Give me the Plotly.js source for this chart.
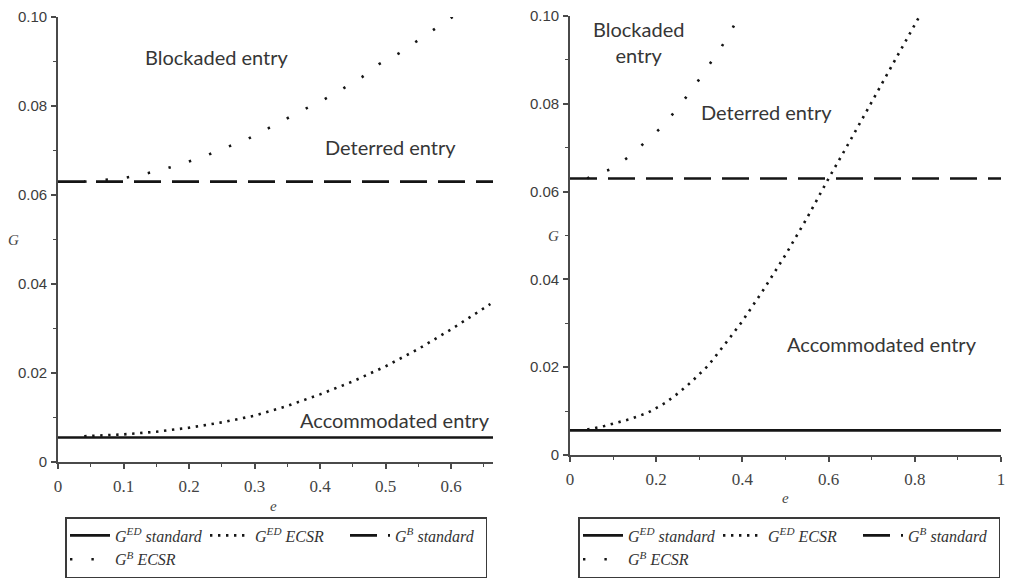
<!DOCTYPE html>
<html><head><meta charset="utf-8">
<script src="https://cdn.plot.ly/plotly-3.0.1.min.js"></script>
<style>html,body{margin:0;padding:0;background:#fff}#chart{width:1011px;height:579px}</style>
</head><body><div id="chart"></div>
<script>
// ---------- data: left panel ----------
const leftXRange = [0, 0.664];
const leftEdStdE = [0, 0.664];
const leftEdStdG = [0.0055, 0.0055];
const leftEdEcsrE = [0.04, 0.1, 0.15, 0.2, 0.25, 0.3, 0.35, 0.4, 0.45, 0.5, 0.55, 0.6, 0.66];
const leftEdEcsrG = [0.0058, 0.0062, 0.0068, 0.0077, 0.0089, 0.0104, 0.0126, 0.0152, 0.0181, 0.0215, 0.0254, 0.0298, 0.0355];
const leftBStdE = [0, 0.664];
const leftBStdG = [0.063, 0.063];
const leftBEcsrE = [0.04, 0.067, 0.1, 0.131, 0.162, 0.193, 0.225, 0.255, 0.287, 0.316, 0.345, 0.374, 0.404, 0.434, 0.464, 0.49, 0.521, 0.55, 0.579, 0.606];
const leftBEcsrG = [0.0630, 0.0634, 0.0638, 0.0647, 0.0658, 0.0672, 0.0688, 0.0706, 0.0724, 0.0746, 0.0769, 0.0791, 0.0813, 0.0838, 0.0865, 0.0894, 0.0919, 0.0948, 0.0975, 0.1004];

// ---------- data: right panel ----------
const rightXRange = [0, 1];
const rightEdStdE = [0, 1];
const rightEdStdG = [0.0056, 0.0056];
const rightEdEcsrE = [0.04, 0.08, 0.14, 0.18, 0.22, 0.25, 0.28, 0.32, 0.36, 0.4, 0.45, 0.5, 0.55, 0.6, 0.65, 0.7, 0.75, 0.81];
const rightEdEcsrG = [0.0058, 0.0066, 0.0082, 0.0096, 0.0118, 0.0140, 0.0165, 0.0203, 0.0253, 0.0305, 0.0378, 0.0456, 0.0540, 0.0630, 0.0716, 0.0804, 0.0892, 0.0998];
const rightBStdE = [0, 1];
const rightBStdG = [0.063, 0.063];
const rightBEcsrE = [0.04, 0.051, 0.095, 0.139, 0.178, 0.216, 0.251, 0.285, 0.316, 0.348, 0.376, 0.392];
const rightBEcsrG = [0.0630, 0.0636, 0.0651, 0.0681, 0.0716, 0.0750, 0.0792, 0.0835, 0.0879, 0.0924, 0.0970, 0.1000];

// ---------- labels ----------
const yTickVals = [0, 0.02, 0.04, 0.06, 0.08, 0.10];
const yTickText = ['0', '0.02', '0.04', '0.06', '0.08', '0.10'];
const yMinorVals = [0.01, 0.03, 0.05, 0.07, 0.09];
const seriesNames = [
  '<i>G</i><sup><i>ED</i></sup><i> standard</i>',
  '<i>G</i><sup><i>ED</i></sup><i> ECSR</i>',
  '<i>G</i><sup><i>B</i></sup><i> standard</i>',
  '<i>G</i><sup><i>B</i></sup><i> ECSR</i>'
];
const regionLabels = ['Blockaded entry', 'Deterred entry', 'Accommodated entry'];
const regionLabelsRight = ['Blockaded<br>entry', 'Deterred entry', 'Accommodated entry'];

// ---------- styles ----------
const INK = '#151515';
const lineStyles = [
  {color: INK, width: 2.6, dash: 'solid'},
  {color: INK, width: 2.6, dash: '2.4px,5.6px'},
  {color: INK, width: 2.6, dash: '27px,11px'},
  {color: INK, width: 2.6, dash: '2.4px,19px'}
];
const groups = ['a', 'b', 'c', 'a'];

function mk(i, xs, ys, xa, ya, leg) {
  return {
    x: xs, y: ys, xaxis: xa, yaxis: ya, type: 'scatter', mode: 'lines',
    name: seriesNames[i], line: lineStyles[i], legend: leg, legendgroup: groups[i] + leg,
    hoverinfo: 'skip'
  };
}

const traces = [
  mk(0, leftEdStdE, leftEdStdG, 'x', 'y', 'legend'),
  mk(1, leftEdEcsrE, leftEdEcsrG, 'x', 'y', 'legend'),
  mk(2, leftBStdE, leftBStdG, 'x', 'y', 'legend'),
  mk(3, leftBEcsrE, leftBEcsrG, 'x', 'y', 'legend'),
  mk(0, rightEdStdE, rightEdStdG, 'x2', 'y2', 'legend2'),
  mk(1, rightEdEcsrE, rightEdEcsrG, 'x2', 'y2', 'legend2'),
  mk(2, rightBStdE, rightBStdG, 'x2', 'y2', 'legend2'),
  mk(3, rightBEcsrE, rightBEcsrG, 'x2', 'y2', 'legend2')
];

const W = 1011, H = 579;
const AX = '#4a4a4a';
function xAxis(dom, range, dtick, mdtick, anchor) {
  return {
    domain: dom, range: range, anchor: anchor, tick0: 0, dtick: dtick,
    ticks: 'outside', ticklen: 5, tickwidth: 1.5, tickcolor: AX,
    showline: true, linecolor: AX, linewidth: 1.6, zeroline: false, showgrid: false,
    tickfont: {family: 'Liberation Serif, Times New Roman, serif', size: 17, color: '#444'},
    ticklabelstandoff: 3,
    minor: {tick0: 0, dtick: mdtick, ticks: 'outside', ticklen: 3, tickwidth: 1.2, tickcolor: AX, showgrid: false},
    fixedrange: true
  };
}
function yAxis(dom, anchor) {
  return {
    domain: dom, range: [0, 0.1], anchor: anchor,
    tickmode: 'array', tickvals: yTickVals, ticktext: yTickText,
    ticks: 'outside', ticklen: 5, tickwidth: 1.5, tickcolor: AX,
    showline: true, linecolor: AX, linewidth: 1.6, zeroline: false, showgrid: false,
    tickfont: {family: 'Liberation Sans, Arial, sans-serif', size: 15, color: '#3c3c3c'},
    ticklabelstandoff: 1,
    minor: {tickmode: 'array', tickvals: yMinorVals, ticks: 'outside', ticklen: 3, tickwidth: 1.2, tickcolor: AX, showgrid: false},
    fixedrange: true
  };
}

const labelFont = {family: 'Lato, Open Sans, sans-serif', size: 20, color: '#363636'};
function note(text, x, y, xr, yr) {
  return {text: text, x: x, y: y, xref: xr, yref: yr, showarrow: false, font: labelFont, xanchor: 'center', yanchor: 'middle'};
}
function pnote(text, px, py, font) {
  return {text: text, x: px / W, y: 1 - py / H, xref: 'paper', yref: 'paper', showarrow: false, font: font, xanchor: 'center', yanchor: 'middle'};
}
const axTitleFont = {family: 'Liberation Serif, Times New Roman, serif', size: 15, color: '#444'};

const legendBase = {
  orientation: 'h', traceorder: 'grouped', tracegroupgap: 0,
  xanchor: 'left', yanchor: 'top',
  bgcolor: '#fff', bordercolor: '#3a3a3a', borderwidth: 1.5,
  font: {family: 'Liberation Serif, Times New Roman, serif', size: 16, color: '#333'},
  itemwidth: 40, entrywidth: 85, entrywidthmode: 'pixels', itemclick: false, itemdoubleclick: false
};

const layout = {
  width: W, height: H,
  margin: {l: 0, r: 0, t: 0, b: 0},
  paper_bgcolor: '#fff', plot_bgcolor: '#fff',
  xaxis: xAxis([58 / W, 493 / W], leftXRange, 0.1, 0.05, 'y'),
  yaxis: yAxis([1 - 462 / H, 1 - 17 / H], 'x'),
  xaxis2: xAxis([570 / W, 1001 / W], rightXRange, 0.2, 0.1, 'y2'),
  yaxis2: yAxis([1 - 455 / H, 1 - 16 / H], 'x2'),
  legend: Object.assign({}, legendBase, {x: 65 / W, y: 1 - 517 / H}),
  legend2: Object.assign({}, legendBase, {x: 578 / W, y: 1 - 517 / H}),
  annotations: [
    note(regionLabels[0], 0.243, 0.0910, 'x', 'y'),
    note(regionLabels[1], 0.508, 0.0708, 'x', 'y'),
    note(regionLabels[2], 0.514, 0.0094, 'x', 'y'),
    note(regionLabelsRight[0], 0.158, 0.0941, 'x2', 'y2'),
    note(regionLabelsRight[1], 0.455, 0.0781, 'x2', 'y2'),
    note(regionLabelsRight[2], 0.724, 0.0253, 'x2', 'y2'),
    pnote('<i>G</i>', 13, 240, axTitleFont),
    pnote('<i>G</i>', 553, 236, axTitleFont),
    pnote('<i>e</i>', 273, 506, axTitleFont),
    pnote('<i>e</i>', 785, 498, axTitleFont)
  ],
  showlegend: true
};

Plotly.newPlot('chart', traces, layout, {displayModeBar: false, staticPlot: false, responsive: false});
</script>
</body></html>
